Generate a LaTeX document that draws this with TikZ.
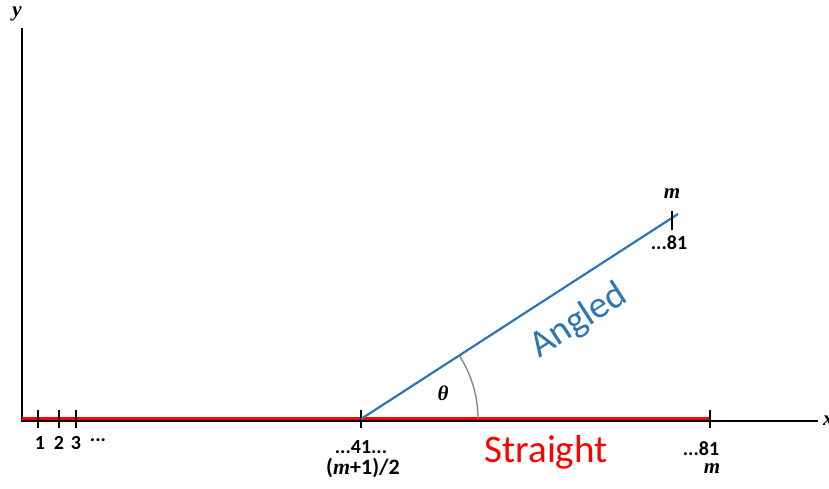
\documentclass[tikz,border=0pt]{standalone}
\usepackage{fontspec}
\setmainfont{Carlito}
\newfontfamily\mathserif{Liberation Serif}
\definecolor{angblue}{RGB}{46,117,182}
\definecolor{strred}{RGB}{255,0,0}
\begin{document}
\begin{tikzpicture}[x=1pt,y=-1pt,
  axis/.style={black,line width=2pt},
  tick/.style={black,line width=1.8pt},
  num/.style={font=\fontsize{20}{20}\selectfont\bfseries,inner sep=0pt},
  mlab/.style={font=\fontsize{21}{21}\selectfont\mathserif\bfseries\itshape,inner sep=0pt}]
\useasboundingbox (0,0) rectangle (829,489);
% axes
\coordinate (O) at (22,421);
\coordinate (Ytop) at (22,28);
\coordinate (Xend) at (818,421);
\draw[axis] (Ytop) -- (O) -- (Xend);
\node[mlab] (ylab) at (17,14) {y};
\node[mlab,anchor=west] (xlab) at (823,421) {x};
% straight red line
\coordinate (S0) at (22,418.5);
\coordinate (S1) at (710,418.5);
\draw[strred,line width=3pt] (S0) -- (S1);
% ticks
\foreach \xx/\nm in {38/t1,59/t2,76/t3,361/t41,710/t81}{
  \coordinate (\nm a) at (\xx,410);
  \coordinate (\nm b) at (\xx,428);
  \draw[tick] (\nm a) -- (\nm b);
}
\node[num] (l1) at (40,443) {1};
\node[num] (l2) at (59,443) {2};
\node[num] (l3) at (76,443) {3};
\node[num] (ldots) at (98,440) {...};
\node[num] (l41) at (361,447) {...41...};
\node[font=\fontsize{22}{22}\selectfont\bfseries,inner sep=0pt] (lmid) at (363,468) {(\textit{\mathserif m}+1)/2};
\node[num] (l81) at (701,449) {...81};
\node[mlab] (lm) at (712,469) {m};
% angled line
\coordinate (C) at (361,419);
\coordinate (A) at (678,214);
\draw[angblue,line width=2.2pt] (C) -- (A);
\coordinate (Ta) at (672,211);
\coordinate (Tb) at (672,230);
\draw[tick] (Ta) -- (Tb);
\node[mlab] (am) at (672,194) {m};
\node[num] (a81) at (669,243) {...81};
% angle arc
\draw[gray,line width=1.3pt] (478,419) arc[start angle=0,end angle=-32.8,radius=117];
\node[mlab] (theta) at (443,393) {\textbf{θ}};
% labels
\node[font=\fontsize{38}{38}\selectfont,text=angblue,rotate=32.8,inner sep=0pt] (ang) at (579,321) {Angled};
\node[font=\fontsize{39}{39}\selectfont,text=strred,inner sep=0pt] (str) at (546,452) {Straight};
\end{tikzpicture}
\end{document}
